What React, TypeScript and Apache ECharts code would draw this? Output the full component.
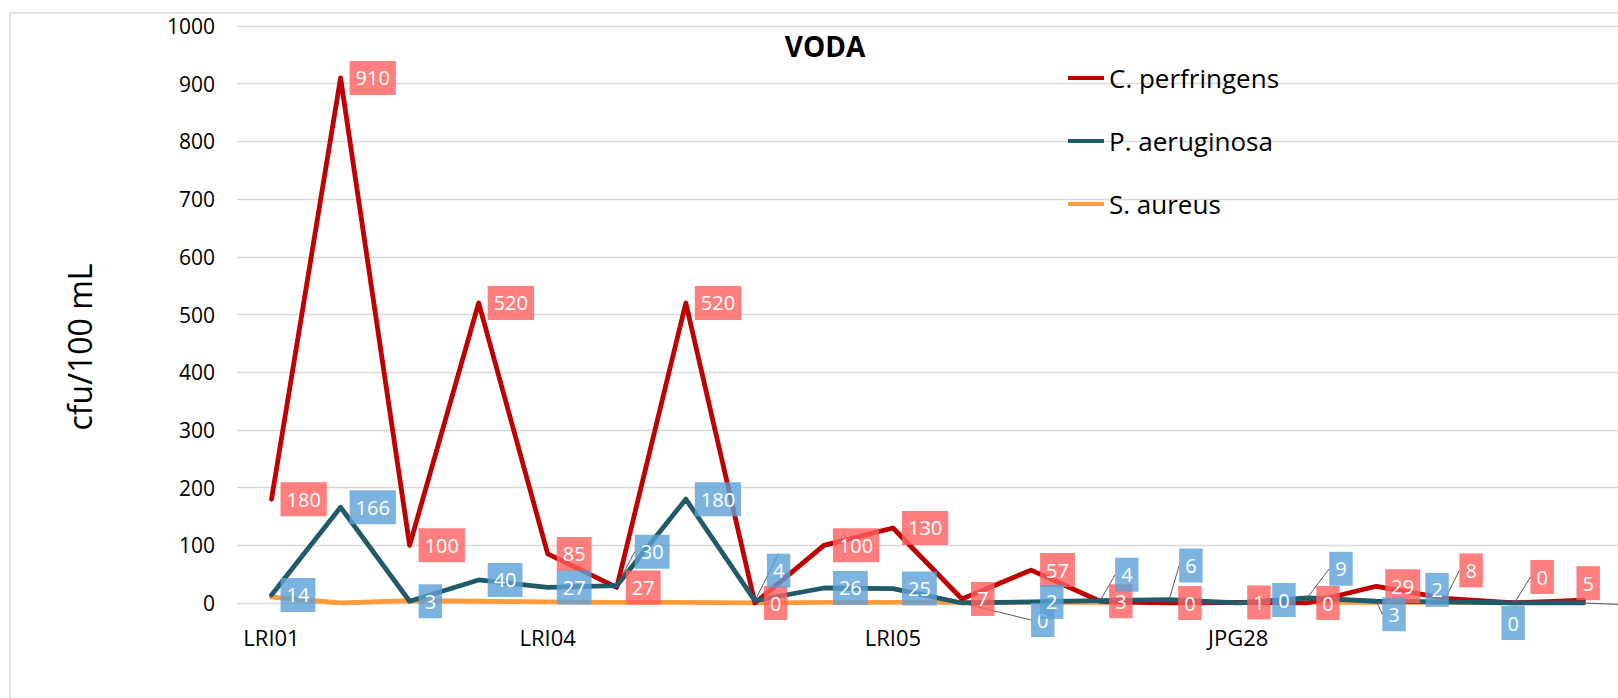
import React, { useEffect, useRef } from "react";
import * as echarts from "echarts";

const categories = ["LRI01", "", "", "", "LRI04", "", "", "", "", "LRI05", "", "", "", "", "JPG28", "", "", "", "", ""];
const seriesNames = ["C. perfringens", "P. aeruginosa", "S. aureus"];
const perfringens = [180, 910, 100, 520, 85, 27, 520, 0, 100, 130, 7, 57, 3, 0, 1, 0, 29, 8, 0, 5];
const aeruginosa = [14, 166, 3, 40, 27, 30, 180, 4, 26, 25, 0, 2, 4, 6, 0, 9, 3, 2, 0, 0];
const aureus = [10, 0, 4, 3, 2, 1, 1, 0, 1, 1, 1, 1, 1, 1, 1, 1, 1, 1, 1, 3];
const yTicks = { min: 0, max: 1000, interval: 100 };

// moved data labels (label offsets in px) – style only
const redMoved: Record<number, [number, number, boolean]> = {
  17: [5, -28, true],
  18: [7, -26, true],
  19: [-16, -17, false],
};
const blueMoved: Record<number, [number, number, boolean]> = {
  5: [9, -34, true],
  7: [3, -30, true],
  10: [60, 17, true],
  12: [6, -26, true],
  13: [1, -34, true],
  14: [25, -3, true],
  15: [13, -29, true],
  16: [-3, 13, true],
  17: [-29, -12, false],
  18: [-22, 20, false],
  19: [40, 2, true],
};
// labels whose box lies beyond the cropped right edge (only their leader is visible)
const blueHidden = [19];

const FONT = "'Open Sans', 'Liberation Sans', sans-serif";

function makeData(values: number[], moved: Record<number, [number, number, boolean]>, hidden: number[] = []) {
  return values.map((v, i) => {
    const m = moved[i];
    const item: any = { value: v };
    if (m && m[2]) item.labelLine = { show: true };
    if (hidden.indexOf(i) >= 0) {
      item.label = { formatter: () => "", backgroundColor: "transparent", padding: [10, 10, 10, 10] };
    }
    return item;
  });
}

function labelCfg(bg: string) {
  return {
    show: true,
    position: "right",
    distance: 9,
    color: "#ffffff",
    fontSize: 20,
    fontFamily: FONT,
    lineHeight: 21,
    backgroundColor: bg,
    padding: [7, 6, 6, 6],
  };
}

export default function App() {
  const ref = useRef<HTMLDivElement>(null);
  useEffect(() => {
    document.body.style.margin = "0";
    document.body.style.overflow = "hidden";
    const chart = echarts.init(ref.current!, undefined, { renderer: "svg" });
    const moveFn = (moved: Record<number, [number, number, boolean]>) => (p: any) => {
      const m = moved[p.dataIndex];
      return m ? { dx: m[0], dy: m[1] } : {};
    };
    const lineLine = { show: false, lineStyle: { color: "#595959", width: 1 } };
    chart.setOption({
      animation: false,
      backgroundColor: "#ffffff",
      textStyle: { fontFamily: FONT },
      grid: { left: 237, right: -15, top: 26, bottom: 95, containLabel: false },
      graphic: [
        {
          type: "rect",
          shape: { x: 10, y: 13, width: 1800, height: 900 },
          style: { fill: "none", stroke: "#D9D9D9", lineWidth: 1.5 },
          silent: true,
          z: -10,
        },
        {
          type: "text",
          x: 825,
          y: 46,
          style: {
            text: "VODA",
            fontFamily: FONT,
            fontWeight: "bold",
            fontSize: 28,
            fill: "#000",
            align: "center",
            verticalAlign: "middle",
          },
        },
        {
          type: "text",
          x: 79,
          y: 347,
          rotation: Math.PI / 2,
          style: {
            text: "cfu/100 mL",
            fontFamily: FONT,
            fontSize: 32,
            fill: "#000",
            align: "center",
            verticalAlign: "middle",
          },
        },
      ],
      legend: {
        orient: "vertical",
        left: 1063,
        top: 58,
        icon: "rect",
        itemWidth: 36,
        itemHeight: 4,
        itemGap: 33,
        data: seriesNames,
        textStyle: { fontSize: 26, fontFamily: FONT, color: "#000", lineHeight: 30 },
      },
      xAxis: {
        type: "category",
        data: categories,
        boundaryGap: true,
        axisLine: { show: false },
        axisTick: { show: false },
        axisLabel: { interval: 0, margin: 23, fontSize: 22, color: "#000", fontFamily: FONT },
        splitLine: { show: false },
      },
      yAxis: {
        type: "value",
        min: yTicks.min,
        max: yTicks.max,
        interval: yTicks.interval,
        axisLine: { show: false },
        axisTick: { show: false },
        axisLabel: {
          margin: 22,
          fontSize: 21,
          color: "#000",
          fontFamily: FONT,
          formatter: (v: number) => String(v),
        },
        splitLine: { lineStyle: { color: "#D9D9D9", width: 1.3 } },
      },
      series: [
        {
          name: seriesNames[0],
          type: "line",
          color: "#C00000",
          data: makeData(perfringens, redMoved),
          symbol: "circle",
          symbolSize: 0,
          showAllSymbol: true,
          lineStyle: { width: 4.8, color: "#C00000", join: "round", cap: "round" },
          label: labelCfg("rgba(255,95,95,0.8)"),
          labelLine: lineLine,
          labelLayout: moveFn(redMoved),
          z: 3,
        },
        {
          name: seriesNames[1],
          type: "line",
          color: "#215A69",
          data: makeData(aeruginosa, blueMoved, blueHidden),
          symbol: "circle",
          symbolSize: 0,
          showAllSymbol: true,
          lineStyle: { width: 4.8, color: "#215A69", join: "round", cap: "round" },
          label: labelCfg("rgba(92,161,215,0.8)"),
          labelLine: lineLine,
          labelLayout: moveFn(blueMoved),
          z: 3,
        },
        {
          name: seriesNames[2],
          type: "line",
          color: "#FF9B3D",
          data: aureus,
          symbol: "circle",
          symbolSize: 0,
          showAllSymbol: true,
          lineStyle: { width: 4.8, color: "#FF9B3D", join: "round", cap: "round" },
          label: { show: false },
          z: 2,
        },
      ],
    });
    return () => chart.dispose();
  }, []);
  return (
    <div
      ref={ref}
      style={{ position: "absolute", left: 0, top: 0, width: 1618, height: 698, overflow: "hidden" }}
    />
  );
}
